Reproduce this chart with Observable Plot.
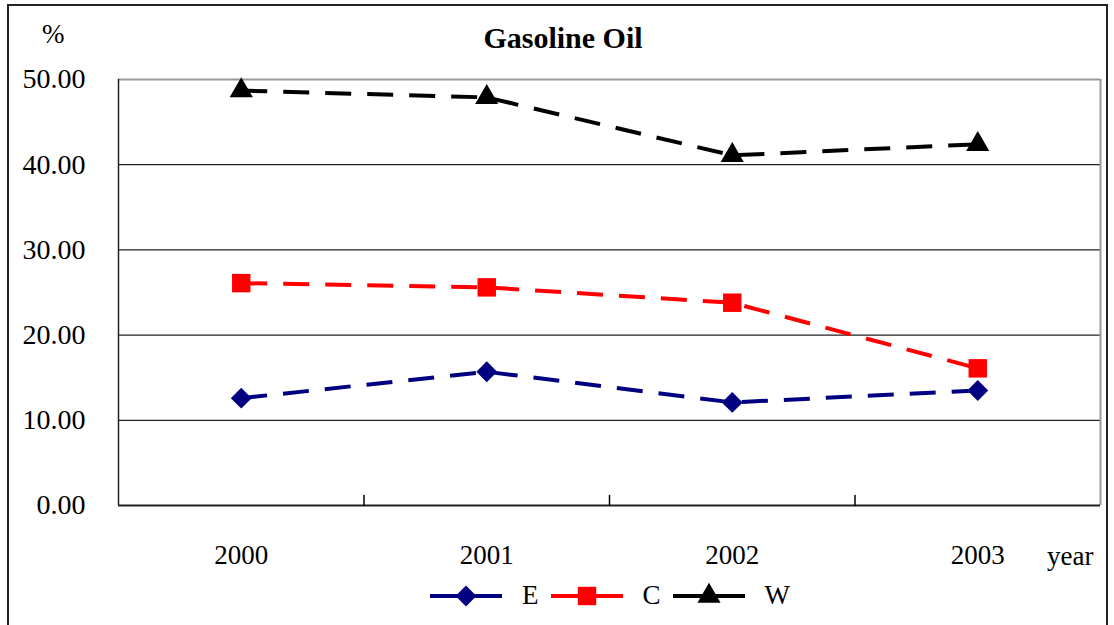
<!DOCTYPE html>
<html>
<head>
<meta charset="utf-8">
<script src="https://cdn.jsdelivr.net/npm/d3@7"></script>
<script src="https://cdn.jsdelivr.net/npm/@observablehq/plot@0.6"></script>
<style>
  body { margin: 0; background: #fff; }
  #wrap { position: relative; width: 1114px; height: 625px; overflow: hidden; font-family: 'Liberation Serif', serif; color: #000; }
  #wrap, #wrap * { font-family: 'Liberation Serif', serif !important; }
  #frame { position: absolute; left: 7px; top: 4px; width: 1101px; height: 660px; border: 2px solid #222; box-sizing: border-box; }
  #chart { position: absolute; left: 0; top: 0; }
  .lbl { position: absolute; font-size: 27px; line-height: 1; white-space: nowrap; }
  #title { left: 0; width: 1126px; top: 23px; text-align: center; font-weight: bold; font-size: 30px; }
  #pct { left: 42px; top: 21px; }
  #yr { left: 1047px; top: 543px; }
  #legend { position: absolute; left: 430px; top: 580px; display: flex; align-items: center; font-size: 27px; }
  #legend .item { display: flex; align-items: center; margin-right: 12px; }
  #legend svg { display: block; margin-right: 20px; }
</style>
</head>
<body>
<div id="wrap">
  <div id="frame"></div>
  <div id="chart"></div>
  <div class="lbl" id="title">Gasoline Oil</div>
  <div class="lbl" id="pct">%</div>
  <div class="lbl" id="yr">year</div>
  <div id="legend"></div>
</div>
<script>
// Share of gasoline oil by region, per year (%)
const years = ["2000", "2001", "2002", "2003"];
const seriesNames = ["E", "C", "W"];
const valuesE = [12.6, 15.7, 12.1, 13.5];
const valuesC = [26.1, 25.6, 23.8, 16.1];
const valuesW = [48.7, 47.9, 41.1, 42.4];
const yTicks = [0, 10, 20, 30, 40, 50];

const colors = {E: "#000080", C: "#ff0000", W: "#000000"};
const symbols = {E: "diamond2", C: "square", W: "triangle"};
const radii = {E: 9.4, C: 10.4, W: 8.6};

const seriesValues = {E: valuesE, C: valuesC, W: valuesW};
const rows = seriesNames.flatMap(s => seriesValues[s].map((v, i) => ({series: s, i, year: years[i], value: v})));

// category index positions; boundaries sit halfway between categories
const idx = years.map((_, i) => i);
const bounds = idx.slice(1).map(i => i - 0.5);

const tickShape = {draw(context, l) { context.moveTo(0, 0); context.lineTo(0, -l); }};

const chart = Plot.plot({
  width: 1114,
  height: 625,
  marginLeft: 118,
  marginRight: 14,
  marginTop: 79,
  marginBottom: 120,
  style: {fontFamily: "'Liberation Serif', serif", fontSize: "27px", background: "transparent", color: "#000"},
  x: {type: "linear", domain: [-0.5, years.length - 0.5]},
  y: {domain: [0, 50]},
  marks: [
    Plot.ruleY(yTicks.filter(t => t > 0 && t < 50), {stroke: "#222", strokeWidth: 1.3}),
    Plot.ruleY([50], {stroke: "#999", strokeWidth: 2}),
    Plot.ruleX([years.length - 0.5], {stroke: "#999", strokeWidth: 2}),
    Plot.ruleX([-0.5], {stroke: "#222", strokeWidth: 1.5}),
    Plot.ruleY([0], {stroke: "#222", strokeWidth: 2}),
    Plot.vector(bounds, {x: d => d, y: 0, length: 10, anchor: "start", shape: tickShape, stroke: "#000", strokeWidth: 1.5}),
    Plot.axisY({ticks: yTicks, tickFormat: d3.format(".2f"), tickSize: 0, tickPadding: 33, label: null, fontSize: 28}),
    Plot.axisX({ticks: idx, tickFormat: i => years[i], tickSize: 0, tickPadding: 39, label: null, fontSize: 27}),
    ...seriesNames.map(s => Plot.line(rows.filter(r => r.series === s), {
      x: "i", y: "value", stroke: colors[s], strokeWidth: 4, strokeDasharray: "26,16", strokeLinecap: "butt"
    })),
    ...seriesNames.map(s => Plot.dot(rows.filter(r => r.series === s), {
      x: "i", y: "value", symbol: () => symbols[s], r: radii[s], fill: colors[s], stroke: "none"
    }))
  ]
});
document.getElementById("chart").appendChild(chart);

// legend swatches: short line with the series marker in the middle
const legend = d3.select("#legend");
const d3Symbols = {diamond2: d3.symbolDiamond2, square: d3.symbolSquare, triangle: d3.symbolTriangle};
seriesNames.forEach(s => {
  const item = legend.append("div").attr("class", "item");
  const svg = item.append("svg").attr("width", 72).attr("height", 30);
  svg.append("line").attr("x1", 0).attr("x2", 72).attr("y1", 15).attr("y2", 15)
    .attr("stroke", colors[s]).attr("stroke-width", 4);
  svg.append("path")
    .attr("transform", "translate(36,15)")
    .attr("d", d3.symbol(d3Symbols[symbols[s]], Math.PI * radii[s] * radii[s])())
    .attr("fill", colors[s]);
  item.append("span").text(s);
});
</script>
</body>
</html>
